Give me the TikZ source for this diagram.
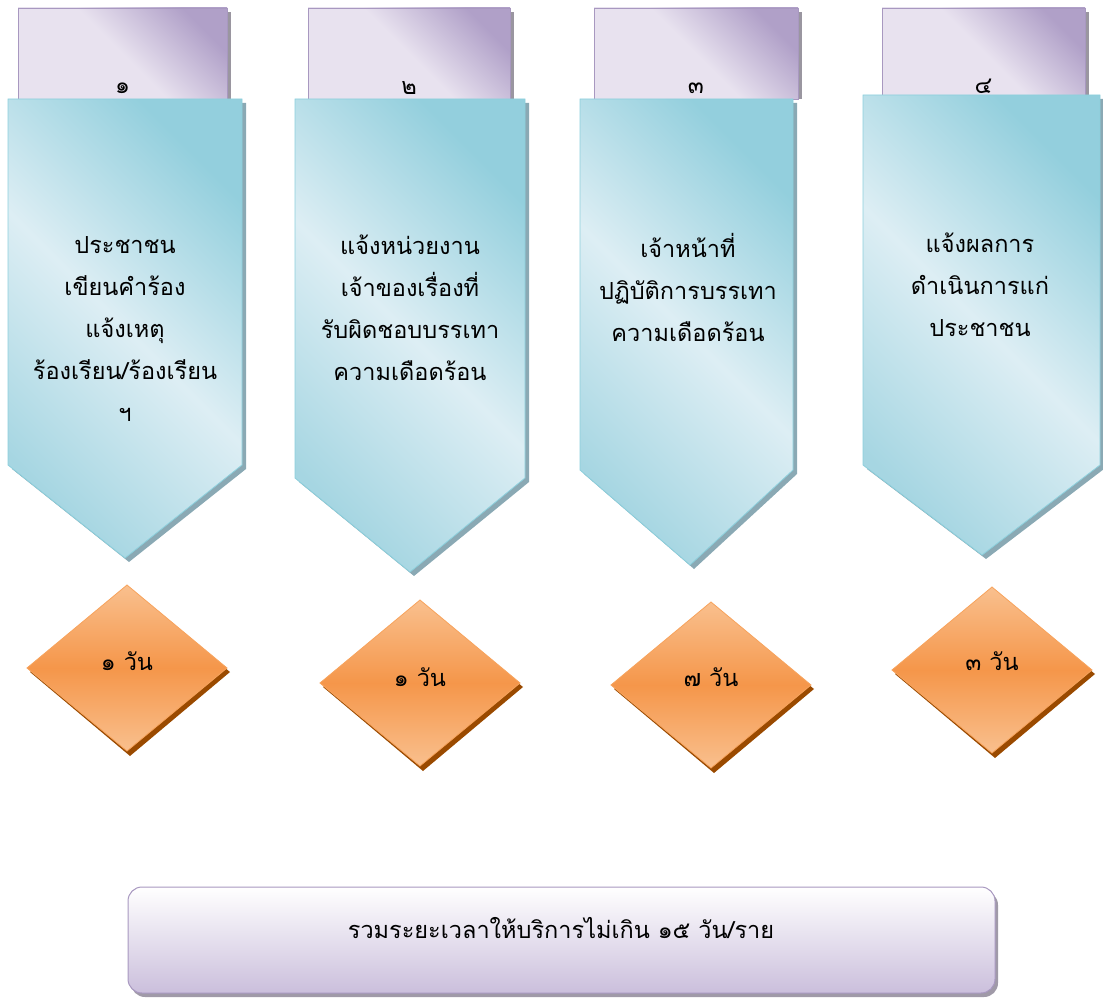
\documentclass[tikz,border=0pt]{standalone}
\usepackage{fontspec}
\newfontfamily\thai[Script=Thai]{Loma}
\definecolor{blueD}{HTML}{93CFDD}
\definecolor{blueL}{HTML}{DDEEF4}
\definecolor{blueM}{HTML}{A6D6E2}
\definecolor{blueB}{HTML}{8CCFDC}
\definecolor{blueS}{HTML}{8AA9B4}
\definecolor{purD}{HTML}{B0A0C8}
\definecolor{purL}{HTML}{E8E2EF}
\definecolor{purB}{HTML}{A898C0}
\definecolor{purS}{HTML}{9A96A0}
\definecolor{oraC}{HTML}{F5964A}
\definecolor{oraL}{HTML}{F9C08E}
\definecolor{oraB}{HTML}{F7A35C}
\definecolor{oraS}{HTML}{9A4A00}
\definecolor{botB}{HTML}{CBBFDC}
\definecolor{botS}{HTML}{A09AA8}
\tikzset{
  txt/.style={font=\thai\fontsize{23.5}{42}\selectfont, align=center, inner sep=0pt},
  num/.style={font=\thai\fontsize{23.5}{26}\selectfont, inner sep=0pt},
  pent/.style={left color=blueD, right color=blueM, middle color=blueL, shading angle=-45, draw=blueB, line width=0.8pt},
  pentsh/.style={fill=blueS},
  tab/.style={left color=purD, right color=purL, middle color=purL, shading angle=-45, draw=purB, line width=0.8pt},
  tabsh/.style={fill=purS},
  dia/.style={top color=oraL, bottom color=oraL, middle color=oraC, draw=oraB, line width=0.8pt},
  diash/.style={fill=oraS},
}
\begin{document}
\begin{tikzpicture}[x=1pt,y=-1pt]
\useasboundingbox (0,0) rectangle (1103,1000);
% ---- tabs
\foreach \a/\b/\t/\bo in {18/227/8/99, 308/510/8/99, 594/798/8/99, 882/1085/8/95}{
  \fill[tabsh] (\a+4,\t+4) rectangle (\b+4,\bo);
  \path[tab] (\a,\t) rectangle (\b,\bo);
}
\node[num] (n1) at (122.5,88) {๑};
\node[num] (n2) at (409,88) {๒};
\node[num] (n3) at (696,88) {๓};
\node[num] (n4) at (983.5,86) {๔};
% ---- pentagons
\foreach \a/\b/\t/\s/\c/\p in {8/242/99/465/125/558, 295/525/99/478/410/572, 580/793/99/470/690/565, 863/1100/95/465/982/555}{
  \fill[pentsh] (\a+4,\t+4) -- (\b+4,\t+4) -- (\b+4,\s+4) -- (\c+4,\p+4) -- (\a+4,\s+4) -- cycle;
  \path[pent] (\a,\t) -- (\b,\t) -- (\b,\s) -- (\c,\p) -- (\a,\s) -- cycle;
}
\node[txt] (t1) at (125,329) {ประชาชน\\เขียนคำร้อง\\แจ้งเหตุ\\ร้องเรียน/ร้องเรียน\\ฯ};
\node[txt] (t2) at (410,308) {แจ้งหน่วยงาน\\เจ้าของเรื่องที่\\รับผิดชอบบรรเทา\\ความเดือดร้อน};
\node[txt] (t3) at (688,287) {เจ้าหน้าที่\\ปฏิบัติการบรรเทา\\ความเดือดร้อน};
\node[txt] (t4) at (980,285) {แจ้งผลการ\\ดำเนินการแก่\\ประชาชน};
% ---- diamonds
\foreach \x/\y in {127/668, 420/683, 711/685, 992/670}{
  \fill[diash] (\x-97,\y+4) -- (\x+3,\y-78) -- (\x+103,\y+4) -- (\x+3,\y+88) -- cycle;
  \path[dia] (\x-100,\y) -- (\x,\y-83) -- (\x+100,\y) -- (\x,\y+83) -- cycle;
}
\node[txt] (d1) at (127,661) {๑ วัน};
\node[txt] (d2) at (420,677) {๑ วัน};
\node[txt] (d3) at (711,677) {๗ วัน};
\node[txt] (d4) at (992,661) {๓ วัน};
% ---- bottom box
\fill[botS, rounded corners=14pt] (131,891) rectangle (998,997);
\path[top color=white, bottom color=botB, draw=purB, line width=1pt, rounded corners=14pt] (128,887) rectangle (995,993);
\node[txt] (sum) at (561,928) {รวมระยะเวลาให้บริการไม่เกิน ๑๕ วัน/ราย};
\end{tikzpicture}
\end{document}
